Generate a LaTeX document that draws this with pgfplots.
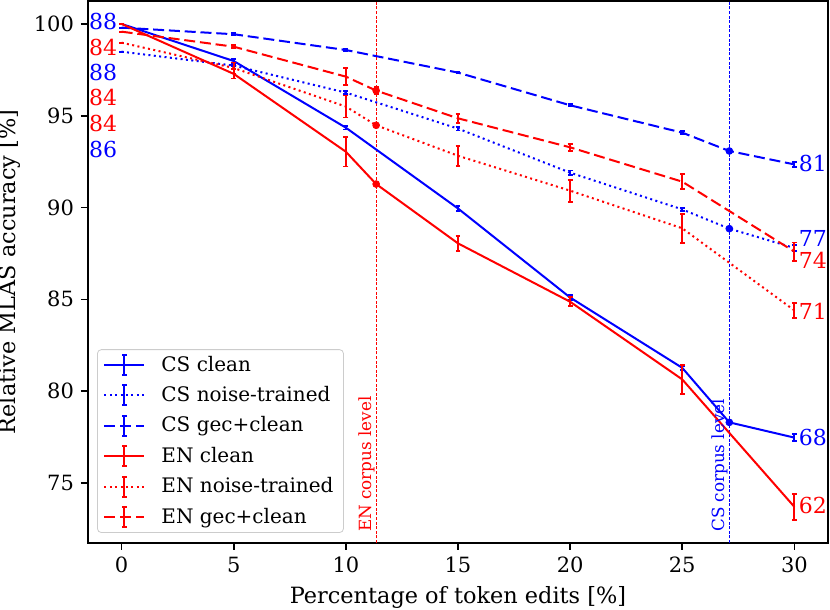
\documentclass[border=0pt]{standalone}
\usepackage{fontspec}
\setmainfont{DejaVu Serif}
\usepackage{pgfplots}
\pgfplotsset{compat=1.18}
\definecolor{mblue}{RGB}{0,0,255}
\definecolor{mred}{RGB}{255,0,0}
\pgfplotsset{
  eb/.style={error bars/.cd, y dir=both, y explicit,
    error bar style={solid, line width=0.9pt},
    error mark options={solid, line width=0.9pt, mark size=1.2pt, rotate=90}},
  dashedm/.style={dash pattern=on 5.5pt off 2.4pt},
  dottedm/.style={dash pattern=on 1pt off 1.7pt},
}
\begin{document}
\begin{tikzpicture}
\begin{axis}[
  scale only axis, width=370pt, height=271pt,
  xmin=-1.5, xmax=31.5, ymin=71.73, ymax=101.25,
  xtick={0,5,...,30}, ytick={75,80,...,100},
  tick align=outside, xtick pos=bottom, ytick pos=left,
  major tick length=3.5pt, tick style={black, line width=0.8pt},
  axis line style={line width=0.8pt},
  /pgf/number format/assume math mode=true,
  ticklabel style={font=\fontsize{10.5}{12}\selectfont},
  xlabel={Percentage of token edits [\%]},
  ylabel={Relative MLAS accuracy [\%]},
  label style={font=\fontsize{11.2}{13}\selectfont},
  legend cell align=left,
  legend style={at={(0.0122,0.0185)}, anchor=south west,
    draw=black!20, rounded corners=2pt, fill=white, fill opacity=0.8, text opacity=1,
    font=\fontsize{10}{12}\selectfont, row sep=3.7pt,
    nodes={inner ysep=1.2pt}},
  legend image code/.code={
    \draw[#1] (0pt,0pt) -- (20pt,0pt);
    \draw[#1, solid] (10pt,-5pt) -- (10pt,5pt);
    \draw[#1, solid] (8.9pt,-5pt) -- (11.1pt,-5pt);
    \draw[#1, solid] (8.9pt,5pt) -- (11.1pt,5pt);
    \path (26pt,0pt);
  },
]
% corpus level lines
\addplot[mred, line width=0.6pt, dash pattern=on 1.5pt off 0.8pt, forget plot] coordinates {(11.35,71.73) (11.35,101.25)};
\addplot[mblue, line width=0.6pt, dash pattern=on 1.5pt off 0.8pt, forget plot] coordinates {(27.1,71.73) (27.1,101.25)};

\addplot[mblue, line width=1pt, eb] coordinates {
 (0,100) +- (0,0) (5,97.98) +- (0,0.1) (10,94.35) +- (0,0.1) (15,89.95) +- (0,0.12)
 (20,85.1) +- (0,0.12) (25,81.27) +- (0,0.12) (27.1,78.3) +- (0,0) (30,77.47) +- (0,0.2)};
\addlegendentry{CS clean}
\addplot[mblue, line width=1pt, dottedm, eb] coordinates {
 (0,98.49) +- (0,0) (5,97.73) +- (0,0.05) (10,96.26) +- (0,0.08) (15,94.3) +- (0,0.1)
 (20,91.9) +- (0,0.12) (25,89.9) +- (0,0.08) (27.1,88.85) +- (0,0) (30,87.8) +- (0,0.15)};
\addlegendentry{CS noise-trained}
\addplot[mblue, line width=1pt, dashedm, eb] coordinates {
 (0,99.8) +- (0,0) (5,99.44) +- (0,0.05) (10,98.58) +- (0,0.05) (15,97.35) +- (0,0.05)
 (20,95.57) +- (0,0.06) (25,94.08) +- (0,0.08) (27.1,93.08) +- (0,0) (30,92.35) +- (0,0.12)};
\addlegendentry{CS gec+clean}
\addplot[mred, line width=1pt, eb] coordinates {
 (0,100) +- (0,0) (5,97.28) +- (0,0.25) (10,93.04) +- (0,0.8) (11.35,91.28) +- (0,0)
 (15,88.05) +- (0,0.4) (20,84.87) +- (0,0.25) (25,80.64) +- (0,0.8) (30,73.7) +- (0,0.7)};
\addlegendentry{EN clean}
\addplot[mred, line width=1pt, dottedm, eb] coordinates {
 (0,98.98) +- (0,0) (5,97.6) +- (0,0.3) (10,95.5) +- (0,0.6) (11.35,94.48) +- (0,0)
 (15,92.82) +- (0,0.55) (20,90.92) +- (0,0.6) (25,88.87) +- (0,0.8) (30,84.4) +- (0,0.4)};
\addlegendentry{EN noise-trained}
\addplot[mred, line width=1pt, dashedm, eb] coordinates {
 (0,99.58) +- (0,0) (5,98.76) +- (0,0.08) (10,97.13) +- (0,0.45) (11.35,96.37) +- (0,0.2)
 (15,94.86) +- (0,0.25) (20,93.28) +- (0,0.2) (25,91.41) +- (0,0.4) (30,87.6) +- (0,0.5)};
\addlegendentry{EN gec+clean}

% corpus level dots
\addplot[mblue, only marks, mark=*, mark size=1.7pt, forget plot] coordinates {(27.1,78.3) (27.1,88.85) (27.1,93.08)};
\addplot[mred, only marks, mark=*, mark size=1.7pt, forget plot] coordinates {(11.35,91.28) (11.35,94.48) (11.35,96.37)};

% corpus labels
\node[mred, rotate=90, anchor=south west, inner sep=0.6pt, font=\fontsize{8.4}{10}\selectfont] at (axis cs:11.35,72.25) {EN corpus level};
\node[mblue, rotate=90, anchor=south west, inner sep=0.6pt, font=\fontsize{8.4}{10}\selectfont] at (axis cs:27.1,72.25) {CS corpus level};

% left annotations
\begin{scope}[every node/.style={anchor=east, inner sep=0pt, font=\fontsize{11}{13}\selectfont}]
\node[mblue] at (axis cs:-0.18,100.15) {88};
\node[mred] at (axis cs:-0.18,98.72) {84};
\node[mblue] at (axis cs:-0.18,97.33) {88};
\node[mred] at (axis cs:-0.18,95.97) {84};
\node[mred] at (axis cs:-0.18,94.6) {84};
\node[mblue] at (axis cs:-0.18,93.15) {86};
\end{scope}
% right annotations
\begin{scope}[every node/.style={anchor=west, inner sep=0pt, font=\fontsize{11}{13}\selectfont}]
\node[mblue] at (axis cs:30.18,92.41) {81};
\node[mblue] at (axis cs:30.18,88.33) {77};
\node[mred] at (axis cs:30.18,87.15) {74};
\node[mred] at (axis cs:30.18,84.33) {71};
\node[mblue] at (axis cs:30.18,77.48) {68};
\node[mred] at (axis cs:30.18,73.78) {62};
\end{scope}
\end{axis}
\pgfresetboundingbox
\path[use as bounding box] (-44pt,-33.5pt) rectangle (371pt,271.5pt);
\end{tikzpicture}
\end{document}
